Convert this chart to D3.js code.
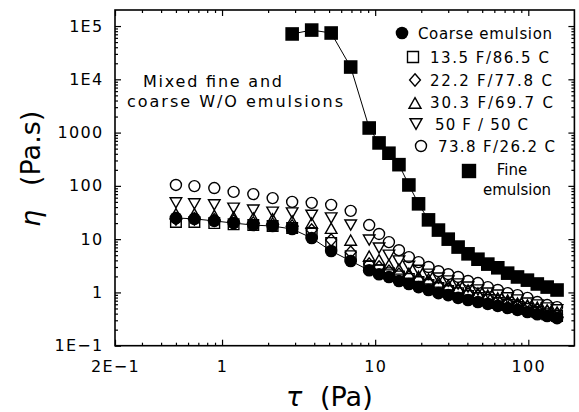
<!DOCTYPE html>
<html>
<head>
<meta charset="utf-8">
<script src="https://cdn.jsdelivr.net/npm/d3@7"></script>
<style>
  html, body { margin: 0; padding: 0; background: #fff; }
  svg { display: block; font-family: "DejaVu Sans", sans-serif; }
</style>
</head>
<body>
<svg id="chart" width="579" height="412"></svg>
<script>
// Shear stress (Pa) at which viscosity was measured
const tau = [0.50, 0.66, 0.89, 1.19, 1.60, 2.14, 2.87, 3.85, 5.16, 6.92,
             9.14, 10.6, 12.3, 14.3, 16.6, 19.2, 22.3, 25.9, 30.0, 34.8,
             40.4, 46.9, 54.4, 63.2, 73.3, 85.0, 98.7, 114.5, 132.8, 154.1];

// Viscosity (Pa.s) of each emulsion
const coarse = [25, 24, 22, 20, 18.4, 17.6, 15.5, 10.5, 6.0, 3.9,
                2.6, 2.2, 1.95, 1.64, 1.44, 1.26, 1.11, 0.97, 0.89, 0.79,
                0.72, 0.66, 0.61, 0.56, 0.51, 0.47, 0.43, 0.39, 0.36, 0.33];
const mix135 = [21, 21, 20, 19, 18.4, 17.6, 16.2, 13, 8.5, 4.8,
                3.1, 2.6, 2.3, 2.0, 1.79, 1.57, 1.38, 1.21, 1.06, 0.97,
                0.86, 0.79, 0.72, 0.63, 0.58, 0.53, 0.49, 0.43, 0.39, 0.36];
const mix222 = [24, 24, 23, 22, 20, 19, 17.6, 14.8, 9.6, 5.7,
                3.4, 3.0, 2.5, 2.2, 1.95, 1.71, 1.5, 1.32, 1.16, 1.06,
                0.93, 0.86, 0.79, 0.69, 0.63, 0.58, 0.53, 0.47, 0.43, 0.39];
const mix303 = [30, 30, 28, 26, 25, 24, 22, 20, 16, 9.6,
                4.8, 4.1, 3.3, 2.75, 2.3, 2.0, 1.79, 1.57, 1.38, 1.21,
                1.11, 0.97, 0.89, 0.79, 0.72, 0.63, 0.58, 0.53, 0.47, 0.43];
const mix50  = [48, 46, 44, 38, 35, 32, 31, 28, 25, 18.4,
                9.6, 6.8, 5.0, 3.9, 3.1, 2.6, 2.2, 1.86, 1.64, 1.44,
                1.26, 1.11, 0.97, 0.89, 0.79, 0.72, 0.63, 0.58, 0.51, 0.47];
const mix738 = [104, 99, 91, 77, 70, 59, 50, 48, 44, 34,
                18.4, 12.5, 8.8, 6.2, 4.6, 3.7, 3.0, 2.5, 2.2, 1.95,
                1.64, 1.5, 1.26, 1.11, 0.97, 0.89, 0.79, 0.66, 0.58, 0.53];
// Fine emulsion was measured from the 7th stress step on
const fineTau = tau.slice(6);
const fine = [71000, 84000, 74000, 17000,
              1220, 640, 410, 250, 104, 46, 23, 14.8, 10, 7.1,
              5.3, 4.2, 3.4, 2.9, 2.3, 1.95, 1.7, 1.44, 1.26, 1.11];

// Axis ticks and their labels
const xTicks = [0.2, 1, 10, 100];
const xTickLabels = ["2E\u22121", "1", "10", "100"];
const yTicks = [0.1, 1, 10, 100, 1000, 1e4, 1e5];
const yTickLabels = ["1E\u22121", "1", "10", "100", "1000", "1E4", "1E5"];

// Legend entries
const legendLabels = ["Coarse emulsion", "13.5 F/86.5 C", "22.2 F/77.8 C",
                      "30.3 F/69.7 C", "50 F / 50 C", "73.8 F/26.2 C"];

const svg = d3.select("#chart");
const L = 115, R = 574.4, T = 10, B = 345.7;

const x = d3.scaleLog().domain([0.2, 200]).range([L, R]);
const y = d3.scaleLog().domain([0.1, 2e5]).range([B, T]);

// minor tick positions: 2..9 within each decade
function minorTicks(lo, hi) {
  const out = [];
  for (let e = Math.floor(Math.log10(lo)); e <= Math.ceil(Math.log10(hi)); e++) {
    for (let m = 2; m <= 9; m++) {
      const v = m * Math.pow(10, e);
      if (v > lo * 1.0001 && v < hi * 0.9999) out.push(v);
    }
  }
  return out;
}
const xMinor = minorTicks(0.2, 200);
const yMinor = minorTicks(0.1, 2e5);

function drawAxis(axis, tx, ty, withLabels) {
  const g = svg.append("g").attr("transform", `translate(${tx},${ty})`).call(axis);
  g.select(".domain").remove();
  g.selectAll(".tick line").attr("stroke", "#000").attr("stroke-width", 1.2);
  g.selectAll(".tick text")
    .attr("fill", "#000")
    .style("font-family", "'DejaVu Sans', sans-serif")
    .style("font-size", "16px")
    .style("letter-spacing", "1.3px");
  if (!withLabels) g.selectAll(".tick text").remove();
  return g;
}

// major ticks with labels (inward)
drawAxis(d3.axisBottom(x).tickValues(xTicks).tickSizeInner(-6).tickSizeOuter(0)
  .tickPadding(15).tickFormat((d, i) => xTickLabels[i]), 0, B, true);
drawAxis(d3.axisLeft(y).tickValues(yTicks).tickSizeInner(-6).tickSizeOuter(0)
  .tickPadding(11.5).tickFormat((d, i) => yTickLabels[i]), L, 0, true);
// mirrored major ticks
drawAxis(d3.axisTop(x).tickValues(xTicks).tickSizeInner(-6).tickSizeOuter(0), 0, T, false);
drawAxis(d3.axisRight(y).tickValues(yTicks).tickSizeInner(-6).tickSizeOuter(0), R, 0, false);
// minor ticks on all four sides
drawAxis(d3.axisBottom(x).tickValues(xMinor).tickSizeInner(-3).tickSizeOuter(0), 0, B, false);
drawAxis(d3.axisTop(x).tickValues(xMinor).tickSizeInner(-3).tickSizeOuter(0), 0, T, false);
drawAxis(d3.axisLeft(y).tickValues(yMinor).tickSizeInner(-3).tickSizeOuter(0), L, 0, false);
drawAxis(d3.axisRight(y).tickValues(yMinor).tickSizeInner(-3).tickSizeOuter(0), R, 0, false);

// plot frame
svg.append("rect").attr("x", L).attr("y", T).attr("width", R - L).attr("height", B - T)
  .attr("fill", "none").attr("stroke", "#000").attr("stroke-width", 1.6);

// marker outlines
function shapePath(type, s) {
  switch (type) {
    case "circle":
      return `M${-s},0a${s},${s} 0 1,0 ${2 * s},0a${s},${s} 0 1,0 ${-2 * s},0Z`;
    case "square":
      return `M${-s},${-s}h${2 * s}v${2 * s}h${-2 * s}Z`;
    case "diamond":
      return `M0,${-s * 1.15}L${s},0L0,${s * 1.15}L${-s},0Z`;
    case "up":
      return `M0,${-s * 0.88}L${s},${s * 0.88}L${-s},${s * 0.88}Z`;
    case "down":
      return `M0,${s * 0.88}L${s},${-s * 0.88}L${-s},${-s * 0.88}Z`;
  }
}

const openSeries = [
  { vals: mix135, type: "square", size: 5.3 },
  { vals: mix222, type: "diamond", size: 5.4 },
  { vals: mix303, type: "up", size: 5.8 },
  { vals: mix50, type: "down", size: 5.8 },
  { vals: mix738, type: "circle", size: 5.5 }
];

const plot = svg.append("g");
openSeries.forEach(s => {
  plot.append("g").selectAll("path")
    .data(d3.zip(tau, s.vals))
    .join("path")
    .attr("transform", d => `translate(${x(d[0])},${y(d[1])})`)
    .attr("d", shapePath(s.type, s.size))
    .attr("fill", "none")
    .attr("stroke", "#000")
    .attr("stroke-width", 1.4);
});

const line = d3.line().x(d => x(d[0])).y(d => y(d[1]));

// coarse emulsion: connected filled circles
const coarsePts = d3.zip(tau, coarse);
plot.append("path").datum(coarsePts).attr("d", line)
  .attr("fill", "none").attr("stroke", "#000").attr("stroke-width", 1);
plot.append("g").selectAll("path").data(coarsePts).join("path")
  .attr("transform", d => `translate(${x(d[0])},${y(d[1])})`)
  .attr("d", shapePath("circle", 6.3)).attr("fill", "#000");

// fine emulsion: connected filled squares
const finePts = d3.zip(fineTau, fine);
plot.append("path").datum(finePts).attr("d", line)
  .attr("fill", "none").attr("stroke", "#000").attr("stroke-width", 1);
plot.append("g").selectAll("path").data(finePts).join("path")
  .attr("transform", d => `translate(${x(d[0])},${y(d[1])})`)
  .attr("d", shapePath("square", 6.8)).attr("fill", "#000");

// legend
const legend = svg.append("g").style("font-size", "15px");
const legendItems = [
  { type: "circle", size: 6.3, fill: "#000", sx: 402, sy: 33, tx: 418, ty: 39, len: 134 },
  { type: "square", size: 5.5, fill: "none", sx: 413, sy: 57, tx: 430, ty: 63, len: 119 },
  { type: "diamond", size: 5.4, fill: "none", sx: 415, sy: 80, tx: 430, ty: 86, len: 122 },
  { type: "up", size: 6, fill: "none", sx: 415, sy: 103, tx: 430, ty: 108, len: 123 },
  { type: "down", size: 6, fill: "none", sx: 416, sy: 124, tx: 435, ty: 130, len: 93 },
  { type: "circle", size: 5.5, fill: "none", sx: 421, sy: 146, tx: 438, ty: 152, len: 117 }
];
legendItems.forEach((it, i) => {
  legend.append("path")
    .attr("transform", `translate(${it.sx},${it.sy})`)
    .attr("d", shapePath(it.type, it.size))
    .attr("fill", it.fill)
    .attr("stroke", "#000").attr("stroke-width", it.fill === "none" ? 1.4 : 0);
  legend.append("text").attr("x", it.tx).attr("y", it.ty)
    .attr("textLength", it.len).attr("lengthAdjust", "spacing")
    .text(legendLabels[i]);
});
legend.append("path").attr("transform", "translate(469,171)")
  .attr("d", shapePath("square", 7.2)).attr("fill", "#000");
legend.append("text").attr("x", 512).attr("y", 175).attr("text-anchor", "middle").text("Fine");
legend.append("text").attr("x", 517).attr("y", 194.5).attr("text-anchor", "middle").text("emulsion");

// annotation
const note = svg.append("g").style("font-size", "16px");
note.append("text").attr("x", 143).attr("y", 87)
  .attr("textLength", 139).attr("lengthAdjust", "spacing").text("Mixed fine and");
note.append("text").attr("x", 127).attr("y", 107)
  .attr("textLength", 216).attr("lengthAdjust", "spacing").text("coarse W/O emulsions");

// axis titles
const yTitle = svg.append("g").attr("transform", "translate(40,0) rotate(-90)")
  .style("font-size", "27px");
yTitle.append("text").attr("x", -227).attr("y", 0).style("font-style", "italic").text("η");
yTitle.append("text").attr("x", -186).attr("y", 0).text("(Pa.s)");

const xTitle = svg.append("text").attr("y", 406).style("font-size", "27px");
xTitle.append("tspan").attr("x", 286).style("font-style", "italic").text("τ");
xTitle.append("tspan").attr("x", 320).text("(Pa)");
</script>
</body>
</html>
